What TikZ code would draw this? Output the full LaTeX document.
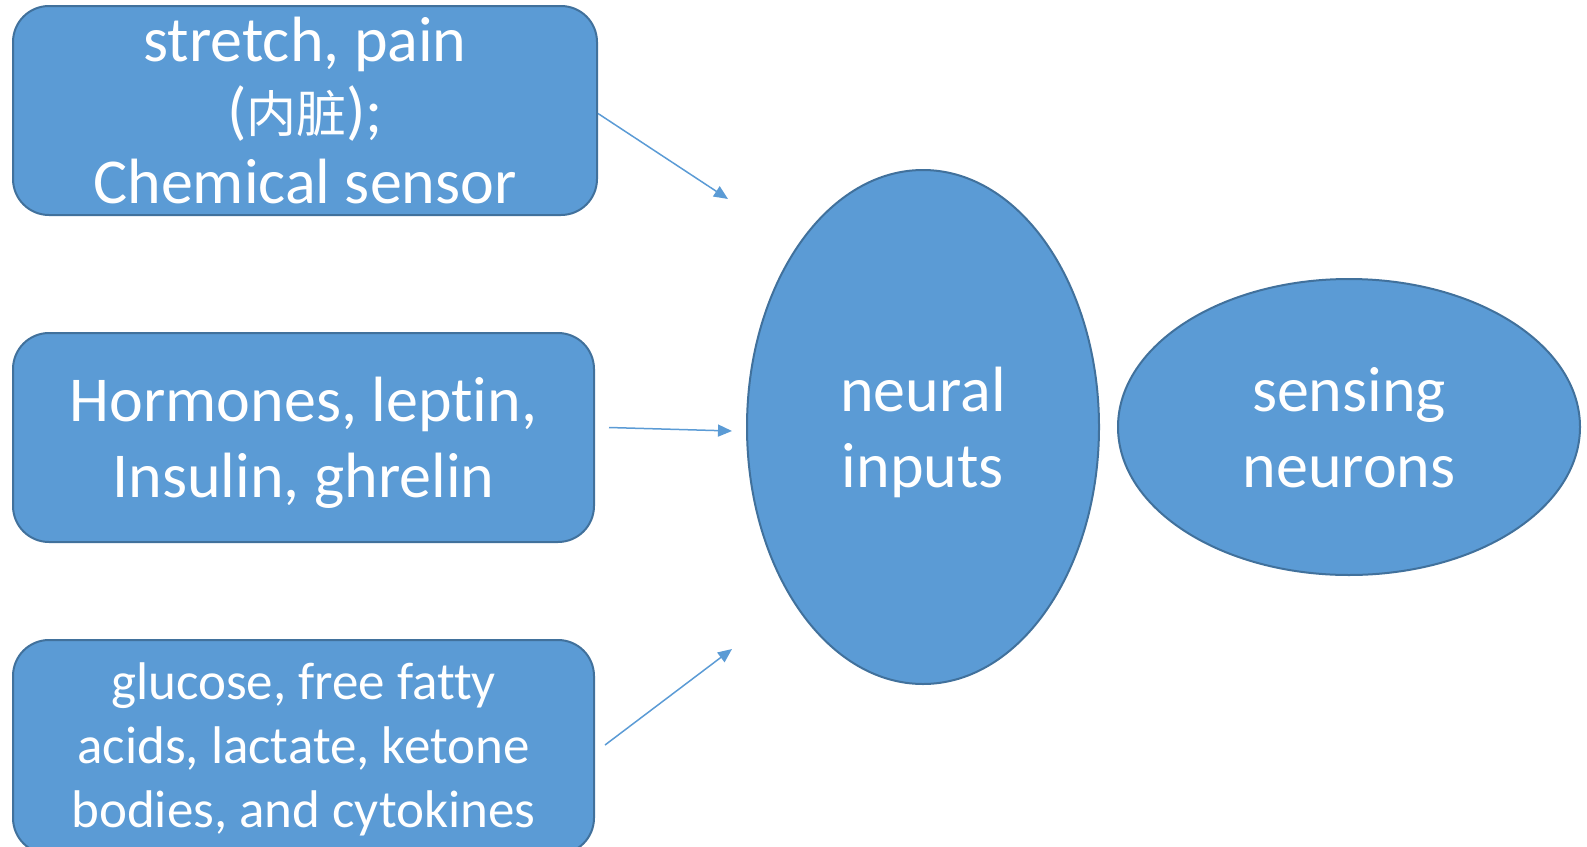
\documentclass[tikz,border=0pt]{standalone}
\usepackage{fontspec}
\setmainfont{Carlito}[Ligatures=NoCommon]
\newfontfamily\cjk{Noto Sans CJK SC}
\usetikzlibrary{shapes.geometric,arrows.meta}
\definecolor{officeblue}{HTML}{5B9BD5}
\definecolor{officeedge}{HTML}{41719C}
\begin{document}
\begin{tikzpicture}[x=1pt, y=-1pt,
  every node/.style={text=white, align=center},
  inbox/.style={draw=officeedge, fill=officeblue, line width=2pt,
    rounded corners=36pt, minimum width=581pt, minimum height=209pt},
  blob/.style={draw=officeedge, fill=officeblue, line width=2pt, ellipse,
    text depth=0pt},
  feed/.style={draw=officeblue, line width=1.5pt,
    -{Triangle[length=14pt,width=12pt]}}]
  \useasboundingbox (0,0) rectangle (1587,846);
  \clip (0,0) rectangle (1587,846);

  % input boxes
  \node[inbox, minimum width=584pt, font=\fontsize{64}{71}\selectfont] (stretch) at (305,110.5)
    {stretch, pain\\({\cjk\fontsize{50}{71}\selectfont 内脏});\\Chemical sensor};
  \node[inbox, text depth=0pt, font=\fontsize{64}{76}\selectfont] (hormones) at (303.5,437.5)
    {Hormones, leptin,\\Insulin, ghrelin};
  \node[inbox, minimum height=214pt, text depth=4pt, font=\fontsize{53}{64}\selectfont]
    (glucose) at (303.5,747)
    {glucose, free fatty\\acids, lactate, ketone\\bodies, and cytokines};

  % ellipses
  \node[blob, minimum width=352pt, minimum height=514pt, font=\fontsize{64}{76}\selectfont]
    (neural) at (923,427) {neural\\inputs};
  \node[blob, minimum width=462pt, minimum height=296pt, font=\fontsize{64}{76}\selectfont]
    (sensing) at (1349,427) {sensing\\neurons};

  % arrow ends
  \coordinate (topend) at (728,199);
  \coordinate (midend) at (732,431);
  \coordinate (lowend) at (732,649);

  \draw[feed] ([yshift=-3pt]stretch.east) -- (topend);
  \draw[feed] ([xshift=14pt,yshift=10pt]hormones.east) -- (midend);
  \draw[feed] ([xshift=10pt,yshift=2pt]glucose.east) -- (lowend);
\end{tikzpicture}
\end{document}
